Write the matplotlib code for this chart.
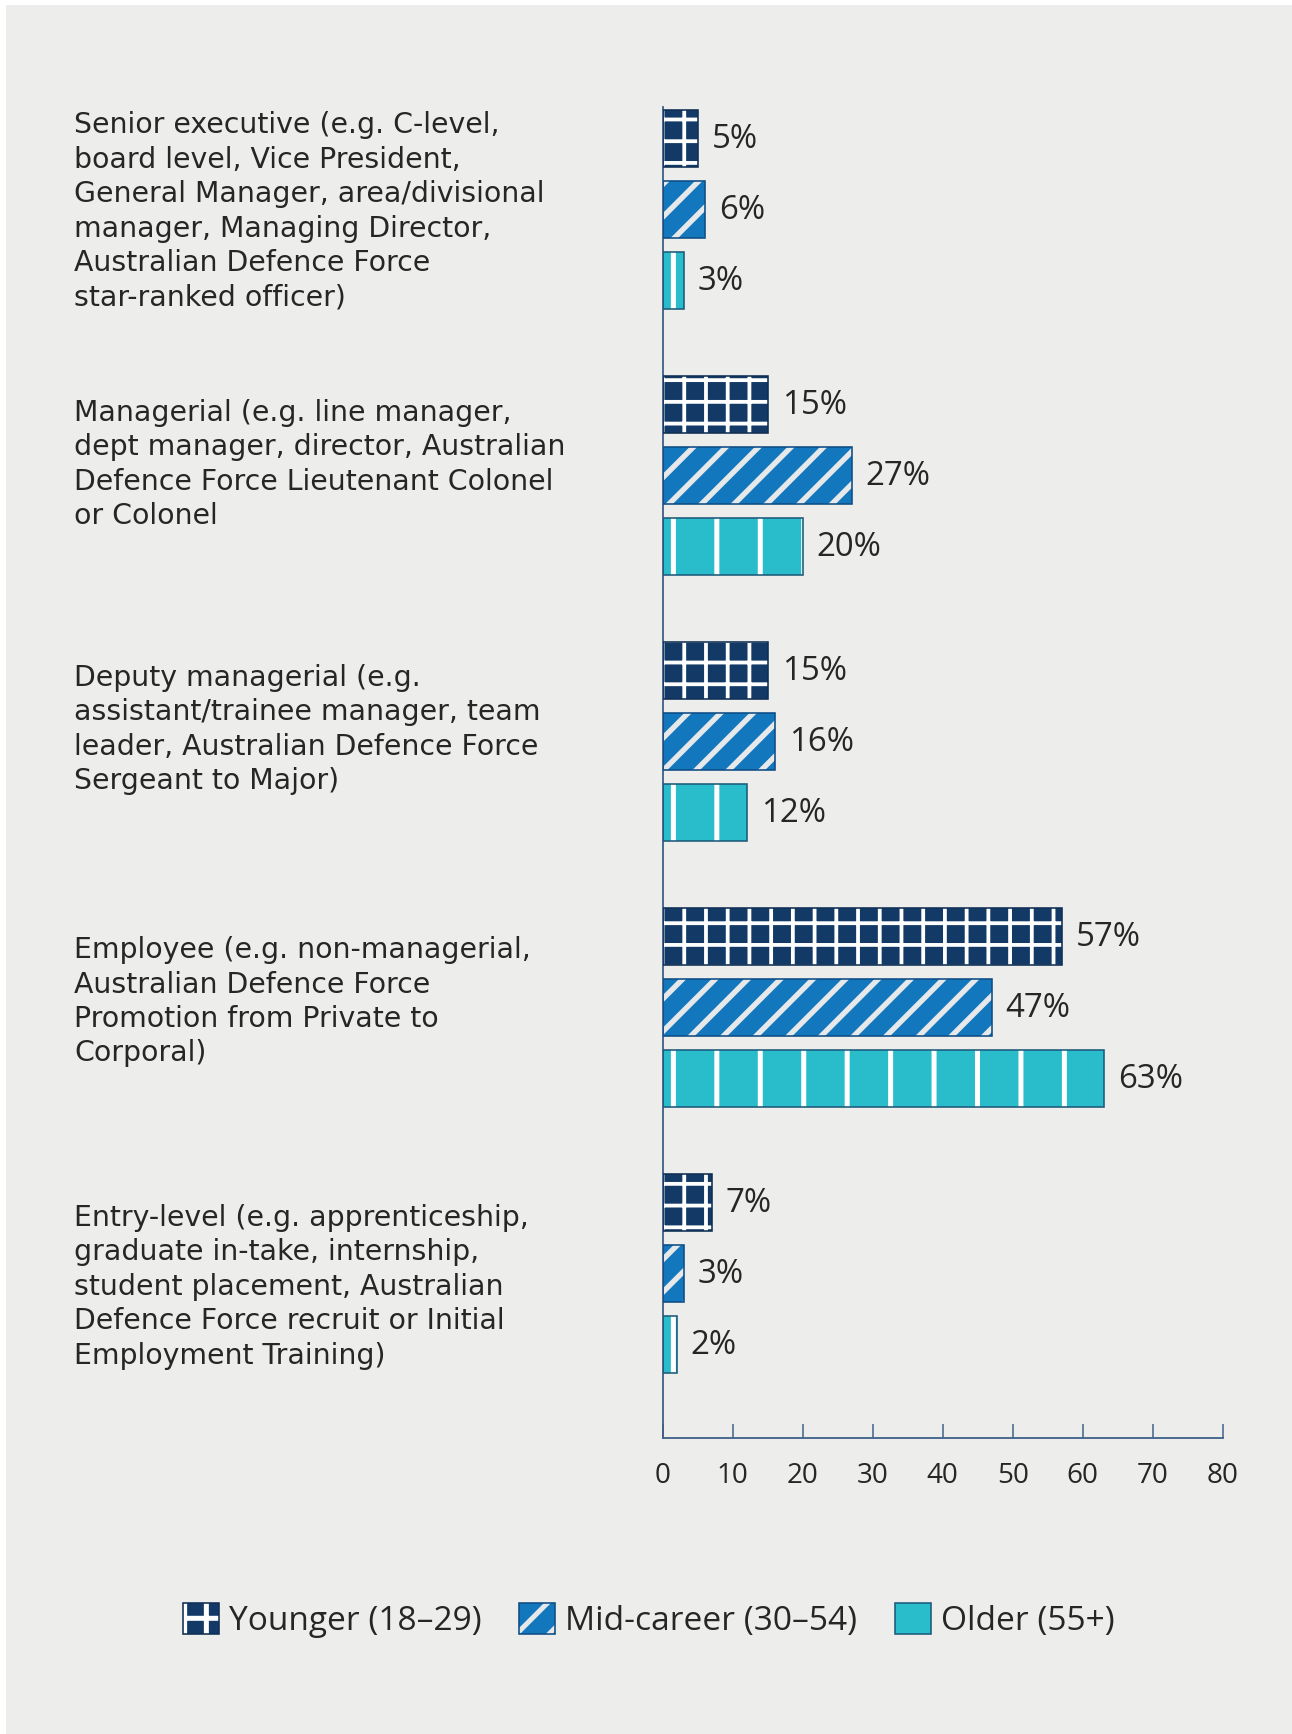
import matplotlib
matplotlib.use('Agg')
import matplotlib.pyplot as plt
from matplotlib.patches import Rectangle
from matplotlib.legend_handler import HandlerTuple
from matplotlib.transforms import blended_transform_factory
import numpy as np

# ---------------- data ----------------
categories = [
    "Senior executive (e.g. C-level,\nboard level, Vice President,\nGeneral Manager, area/divisional\nmanager, Managing Director,\nAustralian Defence Force\nstar-ranked officer)",
    "Managerial (e.g. line manager,\ndept manager, director, Australian\nDefence Force Lieutenant Colonel\nor Colonel",
    "Deputy managerial (e.g.\nassistant/trainee manager, team\nleader, Australian Defence Force\nSergeant to Major)",
    "Employee (e.g. non-managerial,\nAustralian Defence Force\nPromotion from Private to\nCorporal)",
    "Entry-level (e.g. apprenticeship,\ngraduate in-take, internship,\nstudent placement, Australian\nDefence Force recruit or Initial\nEmployment Training)",
]
series_names = ["Younger (18\u201329)", "Mid-career (30\u201354)", "Older (55+)"]
younger = [5, 15, 15, 57, 7]
mid_career = [6, 27, 16, 47, 3]
older = [3, 20, 12, 63, 2]
x_ticks = [0, 10, 20, 30, 40, 50, 60, 70, 80]

# ---------------- style ----------------
# dpi chosen so that matplotlib's hatch tile (1 inch) gives the reference's
# stripe spacings: grid ~21.7 px, diagonals ~32 px, verticals ~43 px
DPI = 782.64
W, H = 1292, 1735


def px(v):
    """pixels -> points at this dpi"""
    return v * 72.0 / DPI


BG = '#ededeb'
SPINE = '#3e5f86'
TEXT = '#262626'
fills = ['#133a66', '#1277bd', '#29bdcb']
hatch_cols = ['#ffffff', '#e6e8ea', '#ffffff']
outline_cols = ['#0f2f55', '#0e4d85', '#1d5a7a']
hatches = ['++++++', '////////', '|||']
hatch_lw_px = [3.8, 5.4, 5.0]

plt.rcParams['hatch.linewidth'] = px(5.0)
plt.rcParams['font.family'] = ['Open Sans', 'DejaVu Sans']

fig = plt.figure(figsize=(W / DPI, H / DPI), dpi=DPI, facecolor='white')
fig.add_artist(Rectangle((6 / W, 0), 1, (H - 6) / H, transform=fig.transFigure,
                         facecolor=BG, edgecolor='none', zorder=-10))

ax_left, ax_right = 662.7, 1222.7
ax_top, ax_bottom = 108.3, 1439.3
ax = fig.add_axes([ax_left / W, (H - ax_bottom) / H,
                   (ax_right - ax_left) / W, (ax_bottom - ax_top) / H])
ax.set_facecolor('none')

step = 3.748
bar_h = 0.807
base = np.arange(len(categories)) * step

series = [younger, mid_career, older]
legend_handles = []
for j, vals in enumerate(series):
    y = base + j
    hb = ax.barh(y, vals, height=bar_h, color=fills[j], edgecolor=hatch_cols[j],
                 linewidth=0, hatch=hatches[j], zorder=2)
    for p in hb.patches:
        if hasattr(p, 'set_hatch_linewidth'):
            p.set_hatch_linewidth(px(hatch_lw_px[j]))
    ob = ax.barh(y, vals, height=bar_h, fill=False, edgecolor=outline_cols[j],
                 linewidth=px(1.6), zorder=3)
    legend_handles.append((hb.patches[0], ob.patches[0]))
    for yi, v in zip(y, vals):
        ax.annotate(f"{v}%", (v, yi), xytext=(px(14), 0), textcoords='offset points',
                    va='center', ha='left', fontsize=px(33), color=TEXT)

ax.set_xlim(0, 80)
ax.set_ylim(base[-1] + 2 + 1.317, -0.438)
ax.set_xticks(x_ticks)
ax.set_yticks([])
ax.tick_params(axis='x', direction='in', length=px(14), width=px(1.5), color=SPINE,
               labelsize=px(28), labelcolor=TEXT, pad=px(23))
for s in ['top', 'right']:
    ax.spines[s].set_visible(False)
for s in ['left', 'bottom']:
    ax.spines[s].set_color(SPINE)
    ax.spines[s].set_linewidth(px(1.8))

# category labels
label_nudge_px = [1, -12, -13, -7, 12]
trans = blended_transform_factory(fig.transFigure, ax.transData)
for g, text in enumerate(categories):
    ax.text(74 / W, base[g] + 1 + label_nudge_px[g] / 71.0, text, transform=trans,
            ha='left', va='center', multialignment='left', fontsize=px(28.4),
            linespacing=1.29, color=TEXT, clip_on=False,
            family=['DejaVu Sans'])

fs_leg = 33.5
fig.legend(legend_handles, series_names,
           handler_map={tuple: HandlerTuple(ndivide=1, pad=0)},
           loc='center', bbox_to_anchor=(648.8 / W, (H - 1621) / H),
           ncol=3, frameon=False, fontsize=px(fs_leg),
           handlelength=36 / fs_leg, handleheight=35 / fs_leg,
           handletextpad=10 / fs_leg, columnspacing=38 / fs_leg,
           borderpad=0, borderaxespad=0, labelcolor=TEXT)

fig.savefig('out.png', dpi=DPI, facecolor=fig.get_facecolor())
